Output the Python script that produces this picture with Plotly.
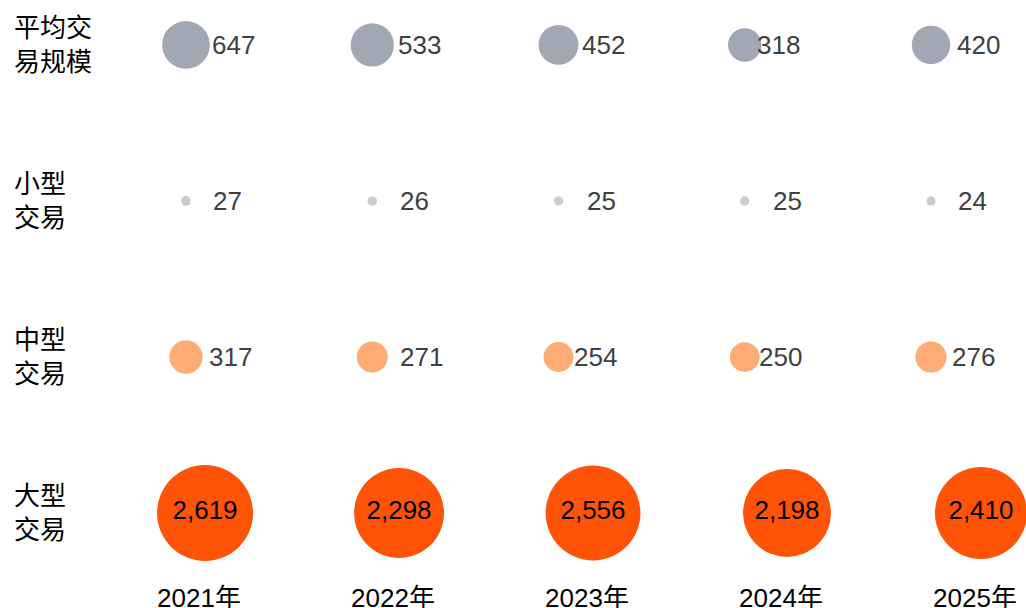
import plotly.graph_objects as go

# ---------------- data ----------------
years = ["2021年", "2022年", "2023年", "2024年", "2025年"]
row_names = ["平均交易规模", "小型交易", "中型交易", "大型交易"]
row_labels = ["平均交<br>易规模", "小型<br>交易", "中型<br>交易", "大型<br>交易"]
avg_size = [647, 533, 452, 318, 420]
small_deals = [27, 26, 25, 25, 24]
mid_deals = [317, 271, 254, 250, 276]
large_deals = [2619, 2298, 2556, 2198, 2410]

# ---------------- style ----------------
W, H = 1026, 608
FONT = "Liberation Sans, Arial, Noto Sans CJK SC, sans-serif"
FS = 26
colors = {"平均交易规模": "#a1a7b3", "小型交易": "#c9cdd4",
          "中型交易": "#ffab74", "大型交易": "#ff5308"}
# pixel offsets of the value labels to the right of the bubble centres
label_shift = {"平均交易规模": [24, 24, 21, 10, 24],
               "小型交易": [25, 26, 26, 26, 25],
               "中型交易": [21, 26, 13, 12, 19]}
MAX_BUBBLE_PX = 96
all_vals = avg_size + small_deals + mid_deals + large_deals
sizeref = 2.0 * max(all_vals) / (MAX_BUBBLE_PX ** 2)

fig = go.Figure()

top_rows = [("平均交易规模", avg_size), ("小型交易", small_deals), ("中型交易", mid_deals)]
for name, vals in top_rows:
    fig.add_trace(go.Scatter(
        x=years, y=[name] * len(years), mode="markers",
        marker=dict(size=vals, sizemode="area", sizeref=sizeref, color=colors[name],
                    line=dict(width=0), opacity=1),
        xaxis="x2", yaxis="y", showlegend=False, hoverinfo="skip", cliponaxis=False))
    for yr, v, sh in zip(years, vals, label_shift[name]):
        fig.add_annotation(x=yr, y=name, xref="x2", yref="y", text=f"{v:,}",
                           showarrow=False, xanchor="left", yanchor="middle",
                           xshift=sh,
                           font=dict(family=FONT, size=FS, color="#404040"))

fig.add_trace(go.Scatter(
    x=years, y=["大型交易"] * len(years), mode="markers+text",
    marker=dict(size=large_deals, sizemode="area", sizeref=sizeref, color=colors["大型交易"],
                line=dict(width=0), opacity=1),
    text=[f"{v:,}" for v in large_deals], textposition="middle center",
    textfont=dict(family=FONT, size=FS, color="#000000"),
    xaxis="x", yaxis="y", showlegend=False, hoverinfo="skip", cliponaxis=False))

for name, lab in zip(row_names, row_labels):
    fig.add_annotation(x=12 / W, y=name, xref="paper", yref="y", text=lab,
                       showarrow=False, xanchor="left", yanchor="middle", align="left",
                       font=dict(family=FONT, size=FS, color="#000000"))

fig.update_layout(
    width=W, height=H, margin=dict(l=0, r=0, t=0, b=28),
    paper_bgcolor="white", plot_bgcolor="white",
    font=dict(family=FONT, size=FS, color="#000000"),
    xaxis=dict(type="category", categoryarray=years, range=[-1.057, 4.232],
               showgrid=False, zeroline=False, showline=False, ticks="", automargin=False,
               ticklabelshift=-6, tickfont=dict(family=FONT, size=FS, color="#000000")),
    xaxis2=dict(type="category", categoryarray=years, range=[-0.9987, 4.510],
                overlaying="x", showgrid=False, zeroline=False, showline=False,
                showticklabels=False, ticks="", automargin=False),
    yaxis=dict(type="category", categoryarray=row_names[::-1], range=[-0.4295, 3.288],
               showgrid=False, zeroline=False, showline=False, showticklabels=False,
               ticks="", automargin=False),
)

fig.write_html("out.html", config={"displayModeBar": False},
               post_script="document.body.style.margin='0px';"
                           "document.body.style.overflow='hidden';"
                           "document.documentElement.style.overflow='hidden';")
